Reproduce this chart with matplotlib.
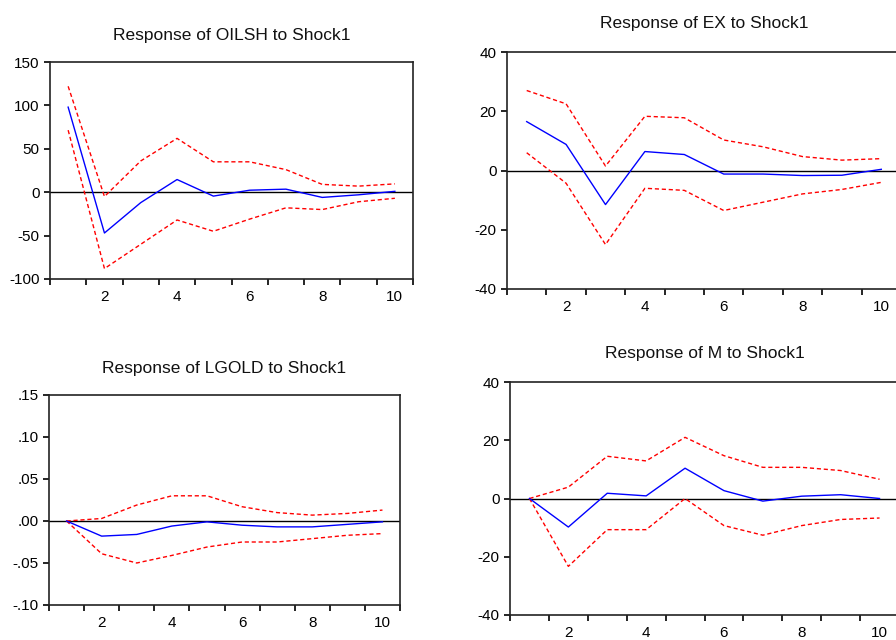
import numpy as np
import matplotlib
matplotlib.use("Agg")
import matplotlib.pyplot as plt

plt.rcParams['font.family'] = ['Liberation Sans', 'DejaVu Sans']

periods = [1, 2, 3, 4, 5, 6, 7, 8, 9, 10]

# Response of OILSH to Shock1
oilsh_irf = [98, -47, -12, 14.6, -4.5, 2.3, 3.5, -6, -3, 1]
oilsh_upper = [122, -5, 36, 62, 35, 35, 26, 9, 7, 9.6]
oilsh_lower = [71.5, -88, -60, -32, -45, -31, -18, -20, -11, -7]

# Response of EX to Shock1
ex_irf = [16.5, 8.8, -11.5, 6.4, 5.4, -1.2, -1.2, -1.7, -1.6, 0.4]
ex_upper = [27, 22.5, 1.5, 18.3, 17.8, 10.3, 8, 4.7, 3.5, 4]
ex_lower = [6, -4.3, -25, -6, -6.7, -13.5, -10.7, -7.9, -6.4, -4]

# Response of LGOLD to Shock1
lgold_irf = [0, -0.018, -0.016, -0.006, -0.001, -0.005, -0.007, -0.007, -0.004, -0.001]
lgold_upper = [0, 0.003, 0.019, 0.030, 0.030, 0.017, 0.010, 0.007, 0.009, 0.013]
lgold_lower = [0, -0.039, -0.050, -0.041, -0.031, -0.025, -0.025, -0.021, -0.017, -0.015]

# Response of M to Shock1
m_irf = [0, -9.8, 1.8, 0.9, 10.4, 2.7, -0.9, 0.8, 1.3, 0]
m_upper = [0, 3.9, 14.5, 12.9, 21, 14.7, 10.7, 10.7, 9.6, 6.6]
m_lower = [0, -23.3, -10.7, -10.7, 0, -9.3, -12.6, -9.3, -7.2, -6.7]

x_labels = [2, 4, 6, 8, 10]

oilsh_yticks = [-100, -50, 0, 50, 100, 150]
oilsh_ylabels = ['-100', '-50', '0', '50', '100', '150']
ex_yticks = [-40, -20, 0, 20, 40]
ex_ylabels = ['-40', '-20', '0', '20', '40']
lgold_yticks = [-0.10, -0.05, 0.00, 0.05, 0.10, 0.15]
lgold_ylabels = ['-.10', '-.05', '.00', '.05', '.10', '.15']
m_yticks = [-40, -20, 0, 20, 40]
m_ylabels = ['-40', '-20', '0', '20', '40']

W, H = 896, 640
fig = plt.figure(figsize=(W / 100, H / 100), dpi=100)


def box(left, top, right, bottom):
    return [left / W, 1 - bottom / H, (right - left) / W, (bottom - top) / H]


def panel(rect, title, irf, upper, lower, yticks, ylabels, title_pad):
    ax = fig.add_axes(rect)
    ax.axhline(0, color='black', lw=1.0, zorder=1)
    ax.plot(periods, upper, color='#ff0000', lw=1.0, linestyle=(0, (3, 2)), zorder=2)
    ax.plot(periods, lower, color='#ff0000', lw=1.0, linestyle=(0, (3, 2)), zorder=2)
    ax.plot(periods, irf, color='#0000ff', lw=1.0, zorder=3)
    ax.set_xlim(0.5, 10.5)
    ax.set_ylim(yticks[0], yticks[-1])
    ax.set_xticks(np.arange(0.5, 11, 1))
    ax.set_xticklabels([])
    ax.set_xticks(x_labels, minor=True)
    ax.set_xticklabels([str(v) for v in x_labels], minor=True, fontsize=11)
    ax.tick_params(axis='x', which='major', direction='out', length=4.5, width=1.2)
    ax.tick_params(axis='x', which='minor', length=0, pad=8)
    ax.set_yticks(yticks)
    ax.set_yticklabels(ylabels, fontsize=11)
    ax.tick_params(axis='y', direction='out', length=4.5, width=1.2, pad=3)
    for s in ax.spines.values():
        s.set_linewidth(1.2)
        s.set_color('#222222')
    ax.set_title(title, fontsize=12.5, pad=title_pad, color='#111111')
    return ax


panel(box(50, 62, 413, 279), 'Response of OILSH to Shock1',
      oilsh_irf, oilsh_upper, oilsh_lower, oilsh_yticks, oilsh_ylabels, 16)
panel(box(507, 52, 901, 289), 'Response of EX to Shock1',
      ex_irf, ex_upper, ex_lower, ex_yticks, ex_ylabels, 17.5)
panel(box(49, 395, 400, 605), 'Response of LGOLD to Shock1',
      lgold_irf, lgold_upper, lgold_lower, lgold_yticks, lgold_ylabels, 15.5)
panel(box(510, 382, 899, 615), 'Response of M to Shock1',
      m_irf, m_upper, m_lower, m_yticks, m_ylabels, 17.5)

fig.savefig('out.png', dpi=100)
